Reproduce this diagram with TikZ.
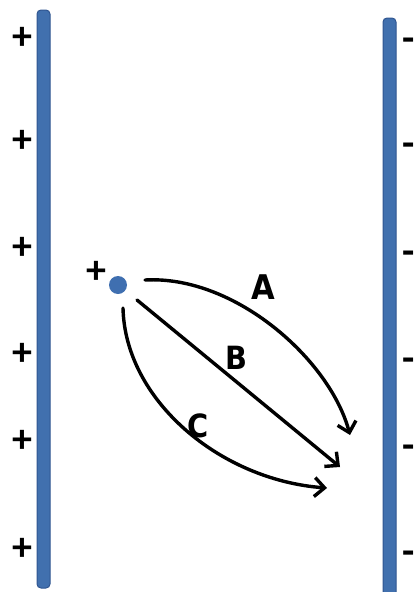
\documentclass[tikz,border=0pt]{standalone}
\usepackage{fontspec}
\setmainfont{Carlito}
\newfontfamily\handfont{DejaVu Sans}
\usetikzlibrary{arrows.meta}
\definecolor{barblue}{HTML}{4170AE}
\definecolor{baredge}{HTML}{2F5590}
\definecolor{dotblue}{HTML}{3F6FB0}
\tikzset{
  plate/.style={fill=barblue, draw=baredge, line width=1pt, rounded corners=4pt},
  sign/.style={font=\fontsize{40}{40}\selectfont\bfseries, inner sep=0pt},
  path line/.style={line width=3.4pt, line cap=round, -{Straight Barb[length=10pt,width=19pt,line width=3.4pt]}},
  letter/.style={font=\handfont\fontsize{34}{34}\selectfont, inner sep=0pt, xscale=0.9},
}
\begin{document}
\begin{tikzpicture}[x=1pt,y=-1pt]
\useasboundingbox (0,0) rectangle (416,592);
% plates
\path[plate] (37,10) rectangle (50,588);
\path[plate] (383,18) rectangle (396,600);
% plus signs
\foreach \yy/\nm in {38/p1,141/p2,248/p3,354/p4,441/p5,549/p6}
  \node[sign] (\nm) at (22,\yy) {+};
% minus signs
\foreach \yy/\nm in {45/m1,150/m2,258/m3,365/m4,452/m5,558/m6}
  \node[sign] (\nm) at (409,\yy) {-};
% charge
\node[circle, fill=dotblue, minimum size=18pt, inner sep=0pt] (q) at (118,285) {};
\node[sign] (qs) at (96,272) {+};
% arrow endpoints
\coordinate (a0) at (145,280);
\coordinate (a1) at (350,435);
\coordinate (b0) at (137,300);
\coordinate (b1) at (340,467);
\coordinate (c0) at (123,308);
\coordinate (c1) at (327,488);
\draw[path line] (a0) .. controls (235,275) and (330,360) .. (a1);
\draw[path line] (b0) -- (b1);
\draw[path line] (c0) .. controls (125,400) and (220,480) .. (c1);
% labels
\node[letter, font=\handfont\bfseries\fontsize{34}{34}\selectfont] (A) at (263,287) {A};
\node[letter, font=\handfont\bfseries\fontsize{32}{32}\selectfont] (B) at (236,358) {B};
\node[letter, font=\handfont\bfseries\fontsize{32}{32}\selectfont] (C) at (198,426) {C};
\end{tikzpicture}
\end{document}
